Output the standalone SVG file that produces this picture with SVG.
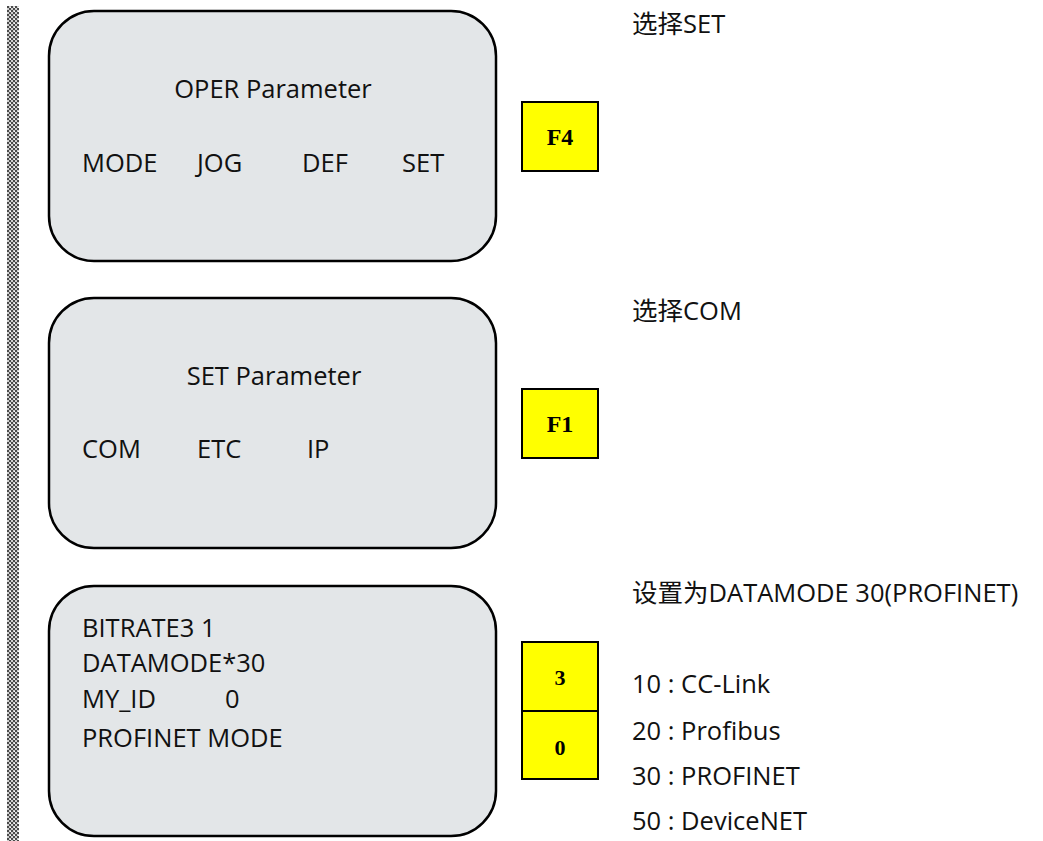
<svg xmlns="http://www.w3.org/2000/svg" width="1043" height="841" viewBox="0 0 1043 841">
  <defs>
    <pattern id="chk" x="7" y="6" width="4" height="4" patternUnits="userSpaceOnUse">
      <rect width="4" height="4" fill="#d0d0d0"/>
      <rect width="2" height="2" fill="#4a4a4a"/>
      <rect x="2" y="2" width="2" height="2" fill="#4a4a4a"/>
      <rect x="3" y="1" width="1" height="1" fill="#ffffff"/>
    </pattern>
  </defs>
  <style>
    .screen { fill: #e3e6e8; stroke: #000; stroke-width: 2.5; }
    .key { fill: #ffff00; stroke: #000; stroke-width: 2; }
    .t { font-family: "Open Sans", "Noto Sans CJK SC", sans-serif; font-size: 25.5px; fill: #111; }
    .note { font-family: "Open Sans", "Noto Sans CJK SC", sans-serif; font-size: 25.5px; fill: #111; }
    .k { font-family: "Liberation Serif", "Times New Roman", serif; font-weight: bold; fill: #000; text-anchor: middle; }
  </style>
  <rect x="7" y="6" width="12" height="835" fill="url(#chk)"/>

  <g id="screen1">
    <rect class="screen" x="49" y="11" width="447" height="250" rx="45" ry="45"/>
    <text class="t" x="273" y="98" text-anchor="middle">OPER Parameter</text>
    <text class="t" x="82" y="172">MODE</text>
    <text class="t" x="197" y="172">JOG</text>
    <text class="t" x="302" y="172">DEF</text>
    <text class="t" x="402" y="172">SET</text>
  </g>
  <g id="key-f4">
    <rect class="key" x="522" y="102" width="76" height="69"/>
    <text class="k" x="560" y="145" font-size="24">F4</text>
  </g>
  <g id="note1">
    <text class="note" x="632" y="33">选择SET</text>
  </g>

  <g id="screen2">
    <rect class="screen" x="49" y="298" width="447" height="250" rx="45" ry="45"/>
    <text class="t" x="274" y="385" text-anchor="middle">SET Parameter</text>
    <text class="t" x="82" y="458">COM</text>
    <text class="t" x="197" y="458">ETC</text>
    <text class="t" x="307" y="458">IP</text>
  </g>
  <g id="key-f1">
    <rect class="key" x="522" y="389" width="76" height="69"/>
    <text class="k" x="560" y="432" font-size="24">F1</text>
  </g>
  <g id="note2">
    <text class="note" x="632" y="320">选择COM</text>
  </g>

  <g id="screen3">
    <rect class="screen" x="49" y="586" width="447" height="250" rx="45" ry="45"/>
    <text class="t" x="82" y="637">BITRATE3 1</text>
    <text class="t" x="82" y="672">DATAMODE*30</text>
    <text class="t" x="82" y="708">MY_ID</text>
    <text class="t" x="225" y="708">0</text>
    <text class="t" x="82" y="747">PROFINET MODE</text>
  </g>
  <g id="key-3">
    <rect class="key" x="522" y="642" width="76" height="69"/>
    <text class="k" x="560" y="685" font-size="22">3</text>
  </g>
  <g id="key-0">
    <rect class="key" x="522" y="711" width="76" height="68"/>
    <text class="k" x="560" y="755" font-size="22">0</text>
  </g>
  <g id="note3">
    <text class="note" x="632" y="602">设置为DATAMODE 30(PROFINET)</text>
    <text class="note" x="632" y="693">10 : CC-Link</text>
    <text class="note" x="632" y="740">20 : Profibus</text>
    <text class="note" x="632" y="785">30 : PROFINET</text>
    <text class="note" x="632" y="830">50 : DeviceNET</text>
  </g>
  <g id="connectors"/>
</svg>
